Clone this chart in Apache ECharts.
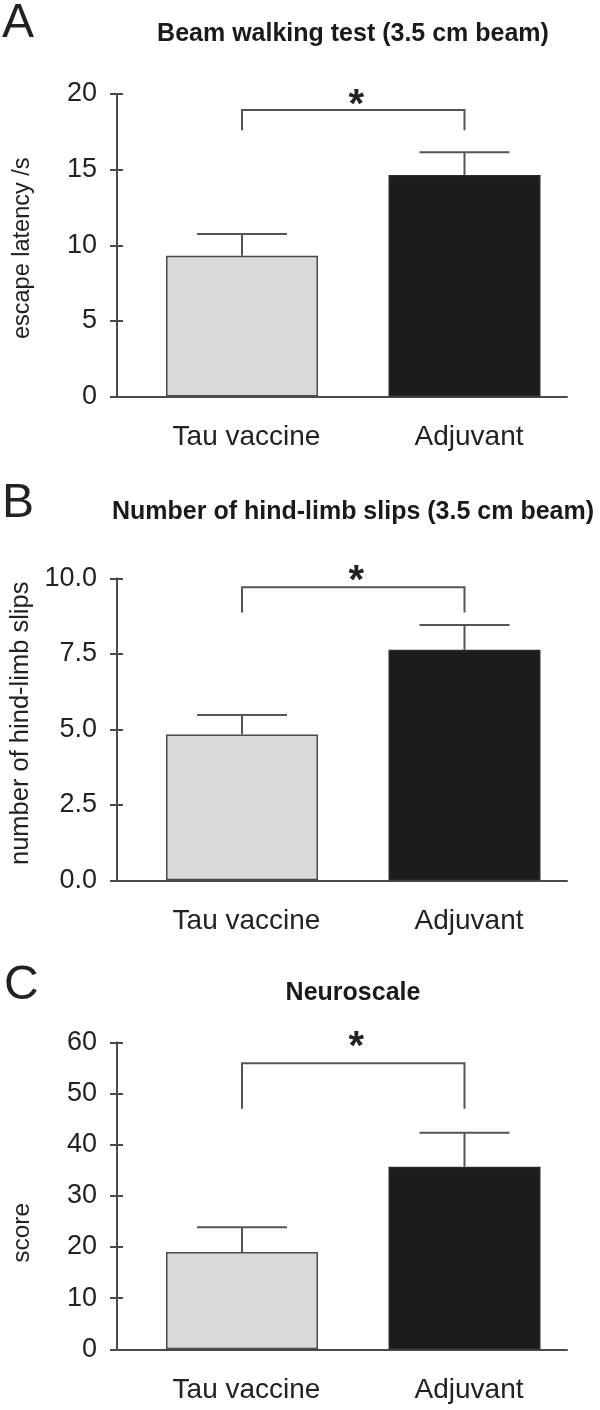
<!DOCTYPE html>
<html><head><meta charset="utf-8">
<script src="https://cdn.jsdelivr.net/npm/echarts@6/dist/echarts.min.js"></script>
<style>html,body{margin:0;padding:0;background:#fff}#c{width:600px;height:1410px}</style>
</head><body><div id="c"></div>
<script>
// ---------- data ----------
const categories = ['Tau vaccine', 'Adjuvant'];
const panelLetters = ['A', 'B', 'C'];
const panelTitles = ['Beam walking test (3.5 cm beam)', 'Number of hind-limb slips (3.5 cm beam)', 'Neuroscale'];
const axisNames = ['escape latency /s', 'number of hind-limb slips', 'score'];
const beamLatency = [9.3, 14.65];
const beamLatencySem = [1.45, 1.5];
const hindLimbSlips = [4.83, 7.63];
const hindLimbSlipsSem = [0.64, 0.82];
const neuroscale = [19.0, 35.7];
const neuroscaleSem = [4.85, 6.6];
const yMax = [20, 10, 60];
const yInterval = [5, 2.5, 10];
const yDecimals = [0, 1, 0];
const bracketLeg = [17.6, 8.87, 47.0];
const bracketTop = [18.95, 9.7, 55.9];
const starLevel = [19.9, 10.2, 60.8];

// ---------- layout / style ----------
const panelTop = [94, 578.3, 1042.3];
const panelHeight = [302.5, 302, 307];
const titleY = [34, 512, 993];
const letterY = [24, 504, 986];
const letterX = [2, 2, 4];
const nameSize = [23.5, 25.5, 24.5];
const namePad = [[0, 6, 0, 0], [0, 0, 0, 12], [0, 74, 0, 0]];
const FONT = '"Liberation Sans", Arial, Helvetica, sans-serif';
const AX = '#4a4a4a';

const values = [beamLatency, hindLimbSlips, neuroscale];
const sems = [beamLatencySem, hindLimbSlipsSem, neuroscaleSem];

const grid = [], xAxis = [], yAxis = [], series = [], graphic = [];
for (let i = 0; i < 3; i++) {
  grid.push({left: 130.75, width: 445, top: panelTop[i], height: panelHeight[i], outerBoundsMode: 'none', containLabel: false});
  grid.push({left: 117, width: 450, top: panelTop[i], height: panelHeight[i], outerBoundsMode: 'none', containLabel: false});
  xAxis.push({type: 'category', gridIndex: 2 * i, data: categories,
    axisLine: {show: false}, axisTick: {show: false}, splitLine: {show: false},
    axisLabel: {fontSize: 28, fontFamily: FONT, color: '#222', margin: 27, padding: [0, 0, 0, 9]}});
  xAxis.push({type: 'value', gridIndex: 2 * i + 1, min: 0, max: 1, position: 'bottom',
    axisLine: {show: true, onZero: false, lineStyle: {color: AX, width: 2}},
    axisTick: {show: false}, axisLabel: {show: false}, splitLine: {show: false}});
  yAxis.push({type: 'value', gridIndex: 2 * i, min: 0, max: yMax[i], interval: yInterval[i], show: false});
  yAxis.push({type: 'value', gridIndex: 2 * i + 1, position: 'left', min: 0, max: yMax[i], interval: yInterval[i],
    axisLine: {show: true, onZero: false, lineStyle: {color: AX, width: 2}},
    axisTick: {show: true, length: 7, lineStyle: {color: AX, width: 2}},
    axisLabel: {fontSize: 27, fontFamily: FONT, color: '#222', margin: 20,
      formatter: (v) => v.toFixed(yDecimals[i])},
    splitLine: {show: false},
    name: axisNames[i], nameLocation: 'middle', nameGap: 82,
    nameTextStyle: {fontSize: nameSize[i], fontFamily: FONT, color: '#222', padding: namePad[i]}});
  yAxis.push({type: 'value', gridIndex: 2 * i + 1, position: 'left', offset: 0, min: 0, max: yMax[i], interval: yInterval[i],
    axisLine: {show: false, onZero: false}, axisTick: {show: true, inside: true, length: 6, lineStyle: {color: AX, width: 2}},
    axisLabel: {show: false}, splitLine: {show: false}});

  series.push({type: 'bar', xAxisIndex: 2 * i, yAxisIndex: 3 * i, barWidth: 152, silent: true, z: 2,
    data: values[i].map((v, k) => ({value: v, itemStyle: {
      color: k === 0 ? '#d9d9d9' : '#1c1c1c',
      borderColor: k === 0 ? '#4a4a4a' : '#2a2a2a', borderWidth: 1.5}}))});
  series.push({type: 'custom', xAxisIndex: 2 * i, yAxisIndex: 3 * i, silent: true, z: 3,
    data: values[i].map((v, k) => [k, v, sems[i][k]]),
    renderItem: (params, api) => {
      const k = api.value(0), v = api.value(1), e = api.value(2);
      const p0 = api.coord([k, v]), p1 = api.coord([k, v + e]);
      const half = 45;
      const st = {stroke: '#555', lineWidth: 2};
      return {type: 'group', children: [
        {type: 'line', shape: {x1: p0[0], y1: p0[1], x2: p1[0], y2: p1[1]}, style: st},
        {type: 'line', shape: {x1: p1[0] - half, y1: p1[1], x2: p1[0] + half, y2: p1[1]}, style: st}
      ]};
    }});
  series.push({type: 'custom', xAxisIndex: 2 * i, yAxisIndex: 3 * i, silent: true, z: 3,
    data: [[0, 1, bracketLeg[i], bracketTop[i], starLevel[i]]],
    renderItem: (params, api) => {
      const a = api.coord([api.value(0), api.value(2)]);
      const b = api.coord([api.value(0), api.value(3)]);
      const c = api.coord([api.value(1), api.value(3)]);
      const d = api.coord([api.value(1), api.value(2)]);
      const s = api.coord([api.value(0), api.value(4)]);
      const mx = (b[0] + c[0]) / 2 + 3;
      return {type: 'group', children: [
        {type: 'polyline', shape: {points: [a, b, c, d]}, style: {stroke: '#555', lineWidth: 2, fill: null}},
        {type: 'text', x: mx, y: s[1] + 10, style: {text: '*', font: 'bold 40px ' + FONT, fill: '#222',
          align: 'center', textAlign: 'center', verticalAlign: 'middle', textVerticalAlign: 'middle'}}
      ]};
    }});

  graphic.push({type: 'text', x: 353, y: titleY[i], silent: true,
    style: {text: panelTitles[i], font: 'bold 25px ' + FONT, fill: '#1a1a1a',
      align: 'center', textAlign: 'center', verticalAlign: 'middle', textVerticalAlign: 'middle'}});
  graphic.push({type: 'text', x: letterX[i], y: letterY[i], silent: true,
    style: {text: panelLetters[i], font: '48px ' + FONT, fill: '#222',
      align: 'left', textAlign: 'left', verticalAlign: 'middle', textVerticalAlign: 'middle'}});
}

const chart = echarts.init(document.getElementById('c'), null, {renderer: 'canvas'});
chart.setOption({animation: false, backgroundColor: '#fff', grid, xAxis, yAxis, series, graphic});
</script>
</body></html>
